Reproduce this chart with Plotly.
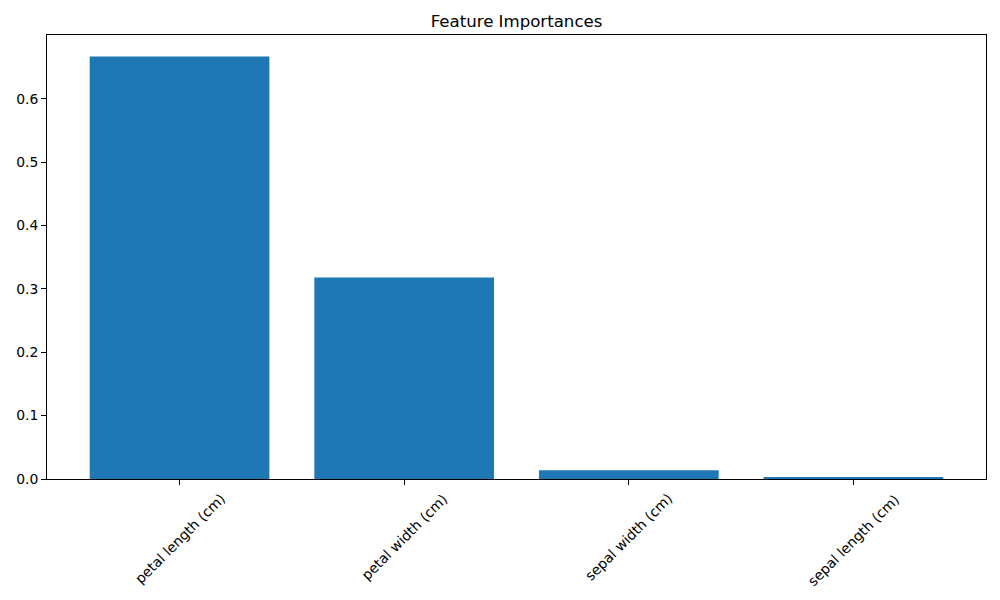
import plotly.graph_objects as go

features = ["petal length (cm)", "petal width (cm)", "sepal width (cm)", "sepal length (cm)"]
importances = [0.6665, 0.3181, 0.0138, 0.0016]
y_ticks = [0.0, 0.1, 0.2, 0.3, 0.4, 0.5, 0.6]
y_tick_labels = ["0.0", "0.1", "0.2", "0.3", "0.4", "0.5", "0.6"]

xpos = list(range(len(features)))

fig = go.Figure()
fig.add_trace(go.Bar(x=xpos, y=importances, width=0.8, marker=dict(color="#1f77b4", line=dict(width=0))))

font = "DejaVu Sans"
annotations = [
    dict(x=xi, y=0, xref="x", yref="paper", text=f, textangle=-45, showarrow=False,
         xanchor="center", yanchor="top", yshift=-9, font=dict(family=font, size=13.9, color="black"))
    for xi, f in zip(xpos, features)
]

fig.update_layout(
    width=1000, height=600,
    margin=dict(l=47, r=14, t=35, b=121),
    paper_bgcolor="white", plot_bgcolor="white",
    showlegend=False,
    title=dict(text="Feature Importances", x=0.5, xref="paper", y=1 - 21 / 600, yanchor="middle",
               font=dict(family=font, size=16.6, color="black")),
    annotations=annotations,
    font=dict(family=font, size=13.9, color="black"),
)
fig.update_xaxes(range=[-0.59, 3.59], tickvals=xpos, showticklabels=False, ticks="outside", ticklen=5,
                 tickcolor="black", showgrid=False, zeroline=False, showline=True, linecolor="black",
                 linewidth=1, mirror=True)
fig.update_yaxes(range=[0, 0.7005], tickvals=y_ticks, ticktext=y_tick_labels, ticks="outside", ticklen=5,
                 tickcolor="black", showgrid=False, zeroline=False, showline=True, linecolor="black",
                 linewidth=1, mirror=True, tickfont=dict(family=font, size=13.9, color="black"))

fig.write_html("out.html")
